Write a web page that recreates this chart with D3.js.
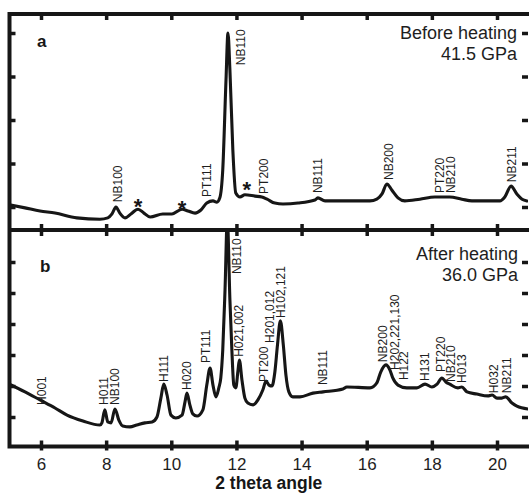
<!DOCTYPE html>
<html><head><meta charset="utf-8">
<script src="https://cdn.jsdelivr.net/npm/d3@7"></script>
<style>html,body{margin:0;padding:0;background:#fff;} svg{display:block;}</style>
</head><body>
<script>
// ---------- data ----------
const xTicks = [6, 8, 10, 12, 14, 16, 18, 20];
const yTicksA = [1, 2, 3, 4, 5];
const yTicksB = [1, 2, 3, 4, 5, 6];

// Panel a: before heating, 41.5 GPa
const thetaA = [5.03,5.51,5.97,6.43,7.10,7.81,8.05,8.18,8.30,8.42,8.58,8.76,8.98,9.16,9.35,9.74,10.02,10.33,10.51,10.73,10.91,11.09,11.28,11.40,11.49,11.58,11.68,11.74,11.80,11.89,11.98,12.11,12.26,12.57,12.78,12.94,13.18,13.43,13.89,14.41,14.50,14.72,15.18,16.10,16.31,16.47,16.62,16.77,16.96,17.17,17.63,18.09,18.55,18.92,19.23,20.09,20.24,20.43,20.61,20.77,20.92];
const intensityA = [1.05,0.98,0.91,0.86,0.75,0.72,0.75,0.84,1.00,0.86,0.75,0.84,0.95,0.86,0.77,0.84,0.84,0.95,0.91,0.86,0.93,1.09,1.14,1.11,1.21,1.85,3.92,5.00,4.15,2.31,1.32,1.23,1.28,1.25,1.23,1.18,1.09,1.07,1.09,1.16,1.21,1.14,1.14,1.14,1.18,1.30,1.53,1.39,1.21,1.14,1.18,1.23,1.23,1.18,1.14,1.14,1.23,1.48,1.30,1.18,1.14];

// Panel b: after heating, 36.0 GPa
const thetaB = [5.03,5.51,5.97,6.43,6.80,7.29,7.81,7.87,7.96,8.05,8.15,8.27,8.39,8.51,8.73,8.94,9.19,9.41,9.56,9.68,9.77,9.87,9.99,10.14,10.33,10.42,10.48,10.57,10.66,10.79,10.97,11.09,11.19,11.28,11.37,11.46,11.52,11.58,11.65,11.72,11.80,11.86,11.92,11.98,12.05,12.09,12.17,12.26,12.35,12.51,12.66,12.81,12.91,13.00,13.09,13.18,13.26,13.35,13.44,13.52,13.61,13.73,13.95,14.35,14.66,15.27,15.39,16.10,16.31,16.43,16.59,16.71,16.80,16.96,17.23,17.54,17.79,18.00,18.16,18.31,18.43,18.55,18.80,18.92,19.08,19.38,19.72,19.85,20.00,20.15,20.27,20.46,20.61,20.95];
const intensityB = [2.06,1.81,1.55,1.29,1.06,0.87,0.74,0.81,1.23,0.84,0.81,1.26,0.90,0.71,0.68,0.74,0.81,0.84,1.00,1.61,2.06,1.71,1.06,0.97,1.06,1.48,1.77,1.39,1.10,1.03,1.23,2.03,2.58,2.03,1.65,1.94,2.26,3.16,5.10,7.40,4.77,3.16,2.03,1.94,2.52,2.84,2.19,1.61,1.45,1.39,1.55,1.87,2.16,2.03,2.00,2.45,3.32,4.10,3.32,2.35,1.81,1.65,1.65,1.77,1.81,1.90,1.97,1.94,2.10,2.45,2.68,2.52,2.26,2.03,1.94,1.94,2.06,1.97,2.06,2.26,2.13,2.06,1.94,1.97,1.81,1.74,1.68,1.71,1.61,1.61,1.65,1.45,1.35,1.26];

// peak labels: text, 2theta, intensity level at label start
const labelsA = [
  {text:"NB100", theta:8.35, level:1.11},
  {text:"PT111", theta:11.09, level:1.23},
  {text:"NB110", theta:12.14, level:4.26},
  {text:"PT200", theta:12.84, level:1.30},
  {text:"NB111", theta:14.50, level:1.32},
  {text:"NB200", theta:16.68, level:1.62},
  {text:"PT220", theta:18.25, level:1.32},
  {text:"NB210", theta:18.59, level:1.32},
  {text:"NB211", theta:20.46, level:1.57}
];
const starsA = [
  {theta:8.98, level:1.11},
  {theta:10.33, level:1.07},
  {theta:12.32, level:1.51}
];
const labelsB = [
  {text:"H001", theta:6.03, level:1.39},
  {text:"H011", theta:7.93, level:1.39},
  {text:"NB100", theta:8.27, level:1.39},
  {text:"H111", theta:9.77, level:2.13},
  {text:"H020", theta:10.48, level:1.87},
  {text:"PT111", theta:11.06, level:2.74},
  {text:"NB110", theta:12.01, level:5.61},
  {text:"H021,002", theta:12.07, level:2.94},
  {text:"PT200", theta:12.84, level:2.13},
  {text:"H201,012", theta:13.03, level:3.39},
  {text:"H102,121", theta:13.37, level:4.19},
  {text:"NB111", theta:14.66, level:2.03},
  {text:"NB200", theta:16.50, level:2.77},
  {text:"H202,221,130", theta:16.87, level:2.52},
  {text:"H122", theta:17.14, level:2.19},
  {text:"H131", theta:17.79, level:2.16},
  {text:"PT220", theta:18.28, level:2.45},
  {text:"NB210", theta:18.59, level:2.13},
  {text:"H013", theta:18.92, level:2.10},
  {text:"H032", theta:19.91, level:1.77},
  {text:"NB211", theta:20.31, level:1.77}
];
const panelTitles = [
  {letter:"a", lines:["Before heating", "41.5 GPa"]},
  {letter:"b", lines:["After heating", "36.0 GPa"]}
];
const xLabel = "2 theta angle";

// ---------- layout ----------
const W = 529, H = 493;
const L = 9.5, R = 528, T = 14, M = 230, B = 446.5;
const INK = "#161616", TXT = "#1e1e1e";
const FONT = "'Liberation Sans', Arial, Helvetica, sans-serif";

const svg = d3.select("body").append("svg").attr("width", W).attr("height", H)
  .style("font-family", FONT);

const x = d3.scaleLinear().domain([6, 20]).range([41, 497]);
const yA = d3.scaleLinear().domain([1, 5]).range([207, 33]);
const yB = d3.scaleLinear().domain([1, 6]).range([417, 262]);

const defs = svg.append("defs");
defs.append("clipPath").attr("id", "clipA").append("rect")
  .attr("x", L).attr("y", T).attr("width", R - L).attr("height", M - T);
defs.append("clipPath").attr("id", "clipB").append("rect")
  .attr("x", L).attr("y", M).attr("width", R - L).attr("height", B - M);

// ---------- curves ----------
function drawCurve(thetas, vals, y, clip) {
  const pts = thetas.map((t, i) => [t, vals[i]]);
  const line = d3.line().x(d => x(d[0])).y(d => y(d[1])).curve(d3.curveMonotoneX);
  svg.append("path").datum(pts).attr("d", line)
    .attr("clip-path", `url(#${clip})`)
    .attr("fill", "none").attr("stroke", INK).attr("stroke-width", 3.1)
    .attr("stroke-linejoin", "round").attr("stroke-linecap", "round");
}
drawCurve(thetaA, intensityA, yA, "clipA");
drawCurve(thetaB, intensityB, yB, "clipB");

// ---------- axes / ticks ----------
function styleAxis(g) {
  g.select(".domain").remove();
  g.selectAll(".tick line").attr("stroke", INK).attr("stroke-width", 3.5);
}
const tickLen = -6;
svg.append("g").attr("transform", `translate(0,${T})`)
  .call(d3.axisTop(x).tickValues(xTicks).tickSize(tickLen).tickFormat("")).call(styleAxis);
svg.append("g").attr("transform", `translate(0,${M})`)
  .call(d3.axisBottom(x).tickValues(xTicks).tickSize(tickLen).tickFormat("")).call(styleAxis);
svg.append("g").attr("transform", `translate(0,${M})`)
  .call(d3.axisTop(x).tickValues(xTicks).tickSize(tickLen).tickFormat("")).call(styleAxis);
svg.append("g").attr("transform", `translate(0,${B})`)
  .call(d3.axisBottom(x).tickValues(xTicks).tickSize(4).tickFormat("")).call(styleAxis);
const xAx = svg.append("g").attr("transform", `translate(0,${B})`)
  .call(d3.axisBottom(x).tickValues(xTicks).tickSize(tickLen).tickPadding(11.5).tickFormat(d3.format("d")))
  .call(styleAxis);
xAx.selectAll(".tick text").attr("fill", TXT).style("font-size", "17px").style("font-family", FONT);

svg.append("g").attr("transform", `translate(${L},0)`)
  .call(d3.axisLeft(yA).tickValues(yTicksA).tickSize(tickLen).tickFormat("")).call(styleAxis);
svg.append("g").attr("transform", `translate(${R},0)`)
  .call(d3.axisRight(yA).tickValues(yTicksA).tickSize(tickLen).tickFormat("")).call(styleAxis);
svg.append("g").attr("transform", `translate(${L},0)`)
  .call(d3.axisLeft(yB).tickValues(yTicksB).tickSize(tickLen).tickFormat("")).call(styleAxis);
svg.append("g").attr("transform", `translate(${R},0)`)
  .call(d3.axisRight(yB).tickValues(yTicksB).tickSize(tickLen).tickFormat("")).call(styleAxis);

// frame
svg.append("path")
  .attr("d", `M${L},${T}H${R}M${L},${T}V${B}M${L},${M}H${R}M${L},${B}H${R}`)
  .attr("fill", "none").attr("stroke", INK).attr("stroke-width", 4).attr("stroke-linecap", "square");

// ---------- labels ----------
function drawLabels(list, y) {
  svg.append("g").selectAll("text").data(list).join("text")
    .attr("transform", d => `translate(${x(d.theta)},${y(d.level)}) rotate(-90)`)
    .attr("dy", "0.36em").attr("text-anchor", "start")
    .attr("fill", TXT).style("font-size", "12px")
    .text(d => d.text);
}
drawLabels(labelsA, yA);
drawLabels(labelsB, yB);

svg.append("g").selectAll("text").data(starsA).join("text")
  .attr("x", d => x(d.theta)).attr("y", d => yA(d.level))
  .attr("dy", "0.55em").attr("text-anchor", "middle")
  .attr("fill", INK).style("font-size", "22px").style("font-weight", "bold")
  .text("*");

// panel letters and titles
const letterPos = [[37, 47], [40, 272]];
const titlePos = [[517, 39, 60], [518, 260, 281]];
panelTitles.forEach((p, i) => {
  svg.append("text").attr("x", letterPos[i][0]).attr("y", letterPos[i][1])
    .attr("fill", INK).style("font-size", "17px").style("font-weight", "bold").text(p.letter);
  p.lines.forEach((s, j) => {
    svg.append("text").attr("x", titlePos[i][0]).attr("y", titlePos[i][1 + j])
      .attr("text-anchor", "end").attr("fill", TXT).style("font-size", "18px").text(s);
  });
});

svg.append("text").attr("x", (L + R) / 2).attr("y", 489)
  .attr("text-anchor", "middle").attr("fill", INK)
  .style("font-size", "17.5px").style("font-weight", "bold").text(xLabel);
</script>
</body></html>
